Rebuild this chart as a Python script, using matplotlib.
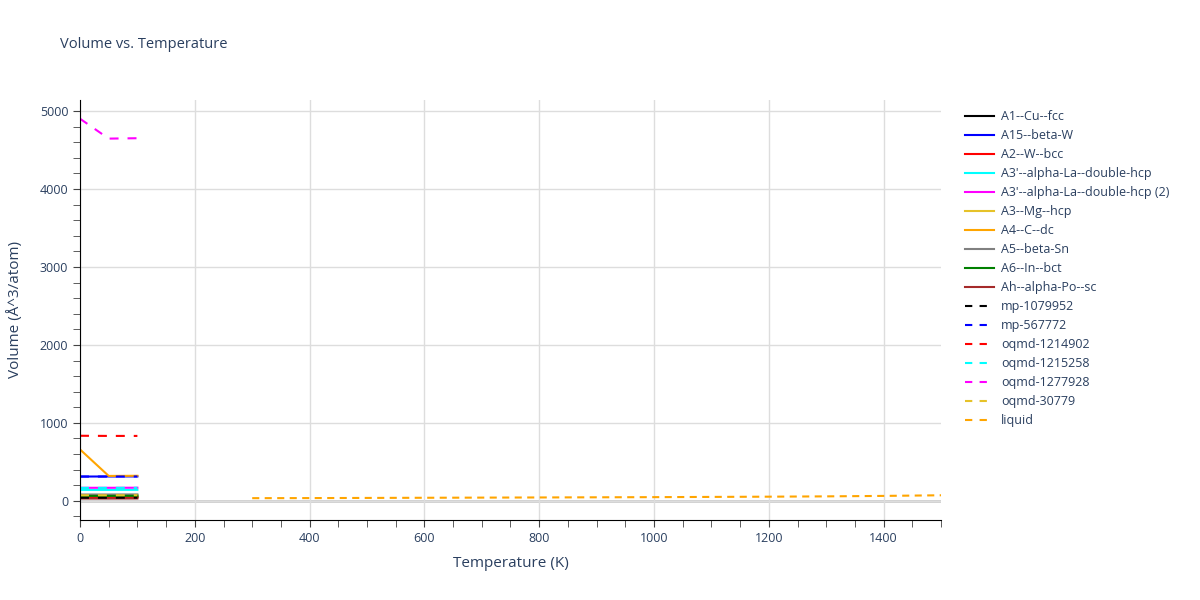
import matplotlib
matplotlib.use("Agg")
import matplotlib.pyplot as plt
from matplotlib.ticker import MultipleLocator
from matplotlib.lines import Line2D

plt.rcParams['font.family'] = ['Open Sans', 'DejaVu Sans']

TXT = "#2a3f5f"

# solid-state phases, 0..100 K
t_solid = [0, 50, 100]
solid = {
    "A1--Cu--fcc": ("black", [45, 45, 46]),
    "A15--beta-W": ("blue", [312, 313, 314]),
    "A2--W--bcc": ("red", [50, 50, 51]),
    "A3'--alpha-La--double-hcp": ("cyan", [141, 141, 142]),
    "A3'--alpha-La--double-hcp (2)": ("magenta", [168, 168, 169]),
    "A3--Mg--hcp": ("#e6c229", [72, 72, 73]),
    "A4--C--dc": ("orange", [660, 320, 322]),
    "A5--beta-Sn": ("gray", [82, 82, 83]),
    "A6--In--bct": ("green", [64, 64, 65]),
    "Ah--alpha-Po--sc": ("brown", [30, 30, 31]),
}
dashed = {
    "mp-1079952": ("black", [40, 40, 41]),
    "mp-567772": ("blue", [312, 312, 313]),
    "oqmd-1214902": ("red", [835, 833, 833]),
    "oqmd-1215258": ("cyan", [167, 167, 168]),
    "oqmd-1277928": ("magenta", [4900, 4645, 4650]),
    "oqmd-30779": ("#e6c229", [72, 72, 73]),
}
t_liquid = [300, 400, 500, 600, 700, 800, 900, 1000, 1100, 1200, 1300, 1400, 1500]
v_liquid = [35, 36, 38, 40, 42, 44, 46, 48, 51, 54, 58, 64, 72]

fig = plt.figure(figsize=(12, 6), dpi=100)
ax = fig.add_axes([80 / 1200, 80 / 600, (941 - 80) / 1200, 420 / 600])

LW = 1.5
handles = []
for name, (c, v) in solid.items():
    ax.plot(t_solid, v, color=c, lw=LW)
    handles.append(Line2D([], [], color=c, lw=LW, label=name))
for name, (c, v) in dashed.items():
    ax.plot(t_solid, v, color=c, lw=LW, dashes=(4.3, 4.3))
    handles.append(Line2D([], [], color=c, lw=LW, dashes=(3.5, 3.5), label=name))
ax.plot(t_liquid, v_liquid, color="orange", lw=LW, dashes=(3.4, 2.6))
handles.append(Line2D([], [], color="orange", lw=LW, dashes=(3.5, 3.5), label="liquid"))

ax.set_xlim(0, 1500)
ax.set_ylim(-245, 5140)
ax.xaxis.set_major_locator(MultipleLocator(200))
ax.xaxis.set_minor_locator(MultipleLocator(50))
ax.yaxis.set_major_locator(MultipleLocator(1000))
ax.yaxis.set_minor_locator(MultipleLocator(200))
ax.grid(True, which="major", color="#dddddd", lw=1)
ax.axhline(0, color="#cccccc", lw=2, zorder=0.5)
ax.set_axisbelow(True)
for s in ["top", "right"]:
    ax.spines[s].set_visible(False)
for s in ["left", "bottom"]:
    ax.spines[s].set_color("black")
ax.tick_params(which="major", length=5, color="#444444", labelsize=9, labelcolor=TXT)
ax.tick_params(which="minor", length=5, color="#444444")
ax.set_xlabel("Temperature (K)", fontsize=11, color=TXT, labelpad=8)
ax.set_ylabel("Volume (Å^3/atom)", fontsize=11, color=TXT, labelpad=12)

fig.text(60 / 1200, 1 - 45 / 600, "Volume vs. Temperature", fontsize=10.5,
         color=TXT, va="center")

fig.legend(handles=handles, loc="upper left", bbox_to_anchor=(960 / 1200, 1 - 105 / 600),
           frameon=False, fontsize=9, labelcolor=TXT, handlelength=2.3,
           handletextpad=0.6, labelspacing=0.48, borderaxespad=0)

fig.savefig("out.png")
